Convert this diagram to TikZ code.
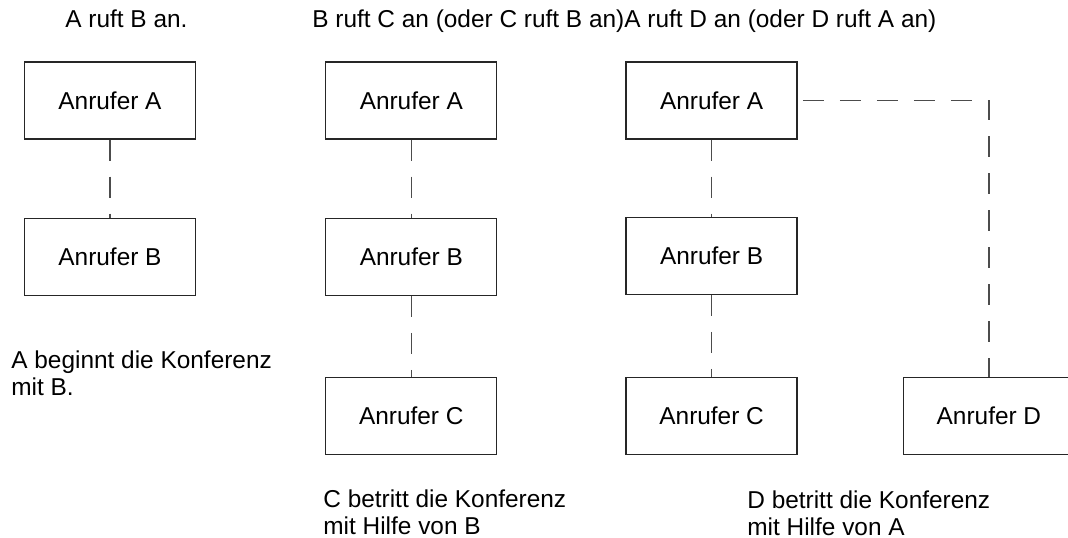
\documentclass[tikz,border=0pt]{standalone}
\usepackage{fontspec}
\setmainfont{Liberation Sans}
\usetikzlibrary{positioning}

\tikzset{
  caller/.style={draw=black!85, line width=0.65bp, minimum width=85.5bp,
    minimum height=38.5bp, inner sep=0pt},
  link/.style={draw=black!70, line width=0.6bp, dash pattern=on 10.5bp off 8bp},
  caption/.style={inner sep=0pt, align=left},
}

\begin{document}
\begin{tikzpicture}[x=0.5bp, y=-0.5bp, font=\fontsize{12.2bp}{13.6bp}\selectfont]
\useasboundingbox (0,0) rectangle (1068,538);

% titles
\node[caption, anchor=base west] (t1) at (65,28) {A ruft B an.};
\node[caption, anchor=base west] (t2) at (312,28) {B ruft C an (oder C ruft B an)};
\node[caption, anchor=base west] (t3) at (624,28) {A ruft D an (oder D ruft A an)};

% callers
\node[caller] (a1) at (110,100.5) {Anrufer A};
\node[caller] (b1) [below=39bp of a1] {Anrufer B};

\node[caller] (a2) [right=64.5bp of a1] {Anrufer A};
\node[caller] (b2) [below=39bp of a2] {Anrufer B};
\node[caller] (c2) [below=40.5bp of b2] {Anrufer C};

\node[caller] (a3) [right=64bp of a2] {Anrufer A};
\node[caller] (b3) [below=38.5bp of a3] {Anrufer B};
\node[caller] (c3) [below=41bp of b3] {Anrufer C};
\node[caller] (d3) [right=52.5bp of c3] {Anrufer D};

\draw[link] (a1) -- (b1);
\draw[link] (a2) -- (b2);
\draw[link] (b2) -- (c2);
\draw[link] (a3) -- (b3);
\draw[link] (b3) -- (c3);
\draw[link] ([xshift=2.5bp]a3.east) -| (d3);

% notes
\node[caption, anchor=north west] (n1) at (11,350) {A beginnt die Konferenz\\mit B.};
\node[caption, anchor=north west] (n2) at (323,489) {C betritt die Konferenz\\mit Hilfe von B};
\node[caption, anchor=north west] (n3) at (747,490) {D betritt die Konferenz\\mit Hilfe von A};
\end{tikzpicture}
\end{document}
